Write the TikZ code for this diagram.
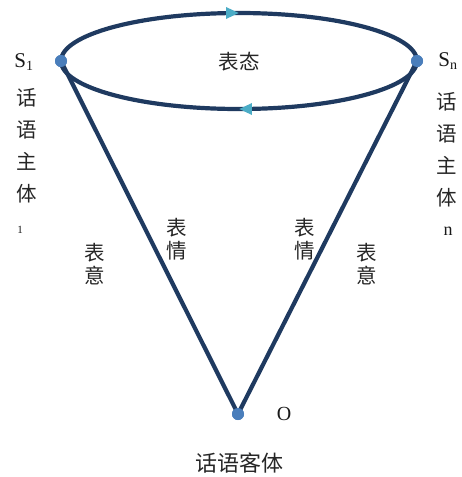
\documentclass[tikz,border=0pt]{standalone}
\usepackage{fontspec}
\setmainfont{Liberation Serif}
\newfontfamily\cjk{Noto Sans CJK SC}
\usetikzlibrary{arrows.meta,decorations.markings}
\definecolor{navy}{HTML}{1F3A60}
\definecolor{dotblue}{HTML}{4A7EBB}
\definecolor{arrowcyan}{HTML}{4BACC6}
\begin{document}
\begin{tikzpicture}[x=1pt,y=-1pt,
  edge/.style={draw=navy,line width=4.2pt},
  dot/.style={circle,fill=dotblue,inner sep=0pt,minimum size=12pt},
  cjktext/.style={font=\cjk\fontsize{20.5}{32}\selectfont,text=black!85,inner sep=0pt,align=center},
  pair/.style={cjktext,font=\cjk\fontsize{20.5}{22.5}\selectfont},
  lat/.style={font=\fontsize{21}{24}\selectfont,text=black!90,inner sep=0pt},
  midarrow/.style={postaction={decorate,decoration={markings,
     mark=at position 0.5 with {\arrow[arrowcyan]{Triangle[length=13pt,width=11pt]}}}}}
]
\useasboundingbox (0,0) rectangle (462,477);
% ellipse
\draw[edge,midarrow] (61,61) arc[start angle=180,end angle=0,x radius=178pt,y radius=48pt];
\draw[edge,midarrow] (417,61) arc[start angle=0,end angle=-180,x radius=178pt,y radius=48pt];
% cone sides
\node[dot] (S1) at (61,61) {};
\node[dot] (Sn) at (417,61) {};
\node[dot] (O) at (238,414) {};
\draw[edge] (S1.center) -- (O.center);
\draw[edge] (Sn.center) -- (O.center);
\node[dot] at (S1) {};
\node[dot] at (Sn) {};
\node[dot] at (O) {};
% labels
\node[lat] (lS1) at (24,62) {S\textsubscript{\fontsize{14}{14}\selectfont 1}};
\node[cjktext] (t1) at (27,146) {话\\语\\主\\体};
\node[lat,font=\fontsize{11}{12}\selectfont] (n1) at (20,230) {1};
\node[lat] (lSn) at (448,61) {S\textsubscript{\fontsize{14}{14}\selectfont n}};
\node[cjktext] (t2) at (447,150) {话\\语\\主\\体};
\node[lat,font=\fontsize{18}{18}\selectfont] (nn) at (448,231) {n};
\node[cjktext] (bt) at (239,62) {表态};
\node[pair] (a1) at (95,264) {表\\意};
\node[pair] (a2) at (177,239) {表\\情};
\node[pair] (a3) at (305,239) {表\\情};
\node[pair] (a4) at (367,264) {表\\意};
\node[lat,font=\fontsize{20}{20}\selectfont] (lO) at (284,414) {O};
\node[cjktext,font=\cjk\fontsize{22}{24}\selectfont] (obj) at (239,463) {话语客体};
\end{tikzpicture}
\end{document}
